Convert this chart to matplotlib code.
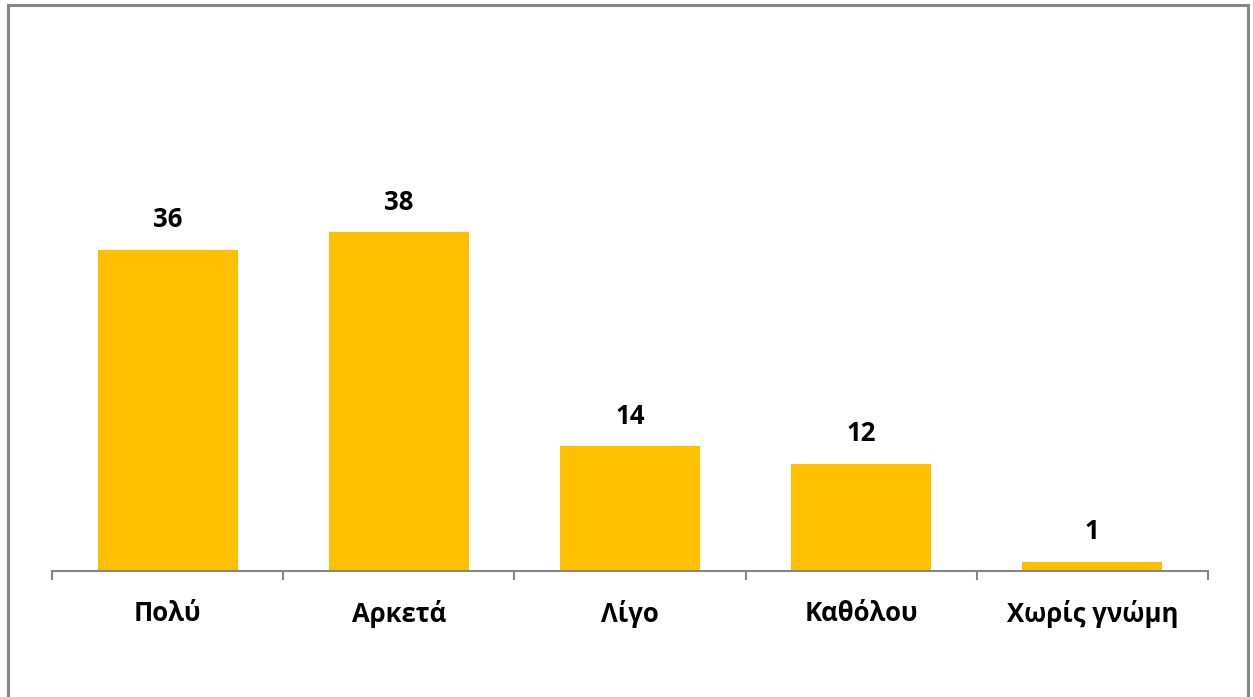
import matplotlib.pyplot as plt
from matplotlib.patches import Rectangle

categories = ['Πολύ', 'Αρκετά', 'Λίγο', 'Καθόλου', 'Χωρίς γνώμη']
values = [36, 38, 14, 12, 1]

plt.rcParams['font.family'] = ['Open Sans', 'DejaVu Sans']

W, H = 1253, 697
fig = plt.figure(figsize=(W / 100, H / 100), dpi=100)

# plot area (pixel positions)
ax = fig.add_axes([52 / W, 126 / H, (1208 - 52) / W, 535 / H])

x = range(len(categories))
ax.bar(x, values, width=0.606, color='#FFC000', zorder=2)

for xi, v in zip(x, values):
    ax.annotate(str(v), (xi, v), xytext=(0, 12), textcoords='offset points',
                ha='center', va='bottom', fontsize=18.5, fontweight='bold')

ax.set_xlim(-0.5, len(categories) - 0.5)
ax.set_ylim(0, 60)

for side in ['top', 'right', 'left']:
    ax.spines[side].set_visible(False)
ax.spines['bottom'].set_color('#868686')
ax.spines['bottom'].set_linewidth(1.5)
ax.set_yticks([])

ax.set_xticks(list(x))
ax.set_xticklabels(categories, fontsize=18.5, fontweight='bold')
ax.tick_params(axis='x', which='major', length=0, pad=21)
ax.set_xticks([i - 0.5 for i in range(len(categories) + 1)], minor=True)
ax.tick_params(axis='x', which='minor', length=6.5, width=1.5, color='#868686')

# outer frame of the chart
fig.patches.append(Rectangle((7.5 / W, -0.05), (1247.5 - 7.5) / W, 1.05 - 5.5 / H,
                             transform=fig.transFigure, fill=False,
                             edgecolor='#868686', linewidth=2.2))

fig.savefig('out.png', dpi=100)
